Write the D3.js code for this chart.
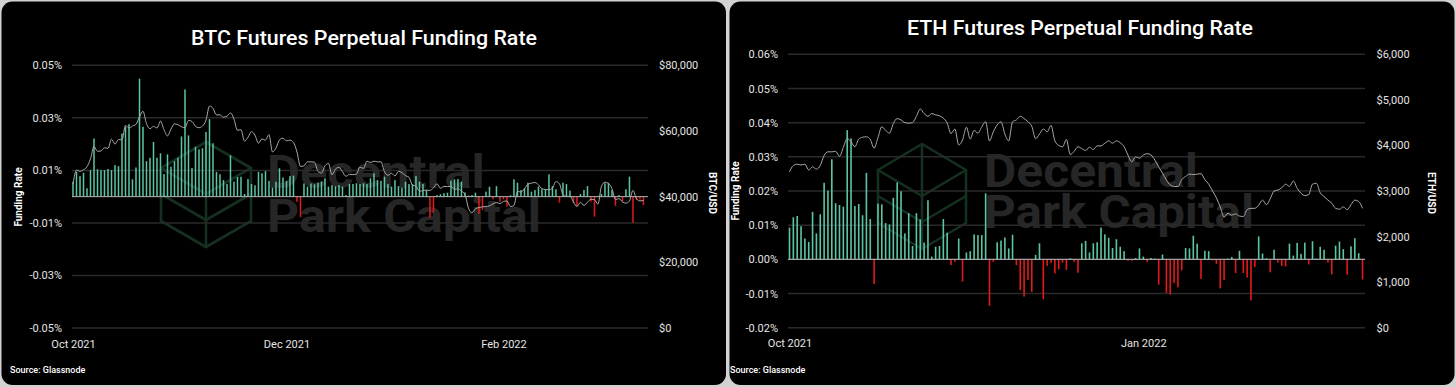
<!DOCTYPE html>
<html><head><meta charset="utf-8">
<script src="https://cdn.jsdelivr.net/npm/d3@7"></script>
<style>
html,body{margin:0;padding:0;background:#d2d2d2;}
svg{display:block;}
text{font-family:Roboto,"Noto Sans",sans-serif;}
</style></head><body>
<svg id="c" width="1456" height="387"></svg>
<script>
// ---------------- DATA ----------------
// BTC daily funding rate (%), 2021-10-01 .. 2022-03-13
const btcRate = [
0.0057,0.0095,0.0078,0.0091,0.0032,0.0101,0.0221,0.0104,0.0101,0.0101,
0.0105,0.0101,0.0120,0.0116,0.0240,0.0266,0.0276,0.0066,0.0111,0.0449,
0.0266,0.0135,0.0148,0.0208,0.0148,0.0165,0.0086,0.0161,0.0114,0.0135,
0.0148,0.0229,0.0408,0.0233,0.0109,0.0190,0.0180,0.0184,0.0246,0.0295,
0.0203,0.0094,0.0085,0.0063,0.0048,0.0157,0.0057,0.0075,0.0076,0.0010,
0.0067,0.0048,0.0043,0.0094,
0.0089,0.0097,0.0060,0.0034,0.0057,0.0108,0.0073,0.0060,0.0078,0.0080,
-0.0020,-0.0078,0.0050,0.0038,0.0050,0.0047,0.0053,0.0057,0.0070,0.0038,
0.0044,0.0040,0.0044,0.0038,0.0006,0.0048,0.0048,0.0051,0.0048,0.0051,
0.0048,0.0070,0.0089,0.0063,0.0060,0.0076,0.0048,0.0038,0.0063,0.0040,
0.0034,0.0057,0.0048,0.0048,0.0078,0.0057,0.0048,0.0025,-0.0080,-0.0060,
0.0006,
0.0009,0.0013,0.0015,0.0061,0.0066,0.0067,0.0057,0.0016,0.0004,0.0006,
0.0015,-0.0066,-0.0050,0.0019,0.0038,-0.0010,0.0040,-0.0019,-0.0010,-0.0038,
0.0005,0.0066,0.0053,0.0025,0.0032,0.0053,0.0019,0.0025,0.0038,0.0028,
0.0028,0.0085,0.0040,0.0028,-0.0023,0.0053,0.0048,0.0023,-0.0025,-0.0035,
0.0010,0.0025,0.0040,-0.0019,-0.0076,0.0003,0.0010,0.0051,0.0053,0.0025,
-0.0035,0.0006,-0.0019,0.0028,0.0076,-0.0099,-0.0013,-0.0010,-0.0032
];
// BTC/USD daily price, same dates
const btcPrice = [
43800,48100,47700,48200,49100,51500,55300,53800,53900,54900,54700,57500,56000,57400,57300,61700,60900,61500,62000,64300,66000,62200,60700,61400,60900,63000,60400,58500,60600,62200,61900,
61300,61000,63200,62900,61400,61000,61500,63300,67600,66900,64900,64900,64200,64500,65500,63600,60200,60400,56900,58100,59800,58700,56300,57600,57200,58900,53600,54800,57300,57800,
57000,57200,56500,53600,49200,49400,50600,50600,50500,47700,47200,49400,50100,46700,48400,48900,47600,46200,46800,46700,46900,49000,48600,50800,50400,50800,50600,50600,47600,46500,47100,
46300,47700,47300,46400,45900,43500,43200,41600,41900,42000,41900,42700,43900,42600,43100,43100,43100,42200,42400,41700,40700,36500,35100,36300,36700,36900,37000,37200,37800,38200,37900,
38500,38700,37000,37300,41600,41400,42400,43800,44100,44300,43600,42400,42200,42100,42600,44600,43900,40600,40100,40100,38400,37000,38300,37300,38300,39200,39100,37700,
43200,44400,44000,42500,39100,39400,38400,38000,38700,41900,39400,38700,38800
];
// ETH daily funding rate (%), 2021-10-01 .. 2022-02-27
const ethRate = [
0.0093,0.0123,0.0127,0.0097,0.0061,0.0051,0.0139,0.0076,0.0132,0.0224,
0.0201,0.0293,0.0164,0.0159,0.0154,0.0378,0.0354,0.0156,0.0162,0.0129,
0.0253,0.0118,-0.0072,0.0163,0.0161,0.0106,0.0102,0.0180,0.0225,0.0199,
0.0076,0.0135,0.0039,0.0135,0.0117,0.0049,0.0173,0.0008,0.0037,0.0039,
0.0118,0.0078,-0.0017,-0.0007,0.0061,-0.0065,0.0020,0.0024,0.0073,0.0071,
0.0071,0.0193,-0.0136,-0.0007,0.0050,0.0055,0.0064,0.0032,0.0072,-0.0017,
-0.0090,-0.0109,-0.0060,-0.0095,0.0013,0.0047,-0.0117,-0.0019,-0.0010,-0.0041,
-0.0029,-0.0010,-0.0031,0.0003,-0.0007,-0.0039,0.0047,0.0054,0.0020,0.0047,
0.0050,0.0093,0.0073,0.0063,0.0033,0.0059,0.0037,0.0024,-0.0004,-0.0004,
0.0004,0.0032,0.0008,-0.0008,0.0004,0.0002,-0.0074,0.0014,-0.0098,-0.0103,
-0.0069,-0.0082,-0.0032,0.0033,0.0032,0.0069,0.0046,-0.0057,0.0025,0.0024,
-0.0003,-0.0013,-0.0085,-0.0061,0.0002,0.0007,-0.0040,0.0025,-0.0040,-0.0053,
-0.0120,-0.0022,0.0067,0.0017,0.0003,-0.0038,0.0028,-0.0009,-0.0019,-0.0021,
0.0046,0.0011,0.0048,0.0016,0.0049,-0.0015,0.0053,0.0002,0.0037,0.0028,
-0.0009,-0.0044,0.0040,0.0052,0.0030,-0.0045,0.0038,0.0062,0.0018,-0.0059
];
// ETH/USD daily price, same dates
const ethPrice = [
3421,3560,3590,3570,3590,3460,3530,3480,3560,3780,
3860,3860,3870,3760,3960,4150,4080,3970,4140,4180,
4190,4130,3940,4170,4410,4330,4270,4480,4590,4560,
4500,4490,4500,4640,4800,4700,4640,4700,4670,4650,
4600,4490,4260,4360,4010,4120,4400,4140,4330,4270,
4410,4520,4100,4300,4450,4520,4250,4100,4520,4560,
4640,4590,4520,4420,4150,4250,4360,4300,4440,4100,
4000,3970,4130,3800,3870,3970,3930,3890,3960,3910,
3990,3990,4050,4100,4050,4100,4060,3970,3790,3640,
3750,3720,3790,3820,3790,3680,3530,3390,3240,3130,
3100,3100,3250,3320,3370,3360,3370,3380,3250,3150,
3000,2850,2650,2430,2510,2470,2500,2450,2440,2590,
2620,2620,2690,2800,2700,2830,3000,3020,3070,3150,
3100,3220,3060,2950,2900,2920,3150,3170,2960,2880,
2800,2730,2620,2600,2650,2590,2700,2800,2770,2620
];
const btcRateTicks = [-0.05,-0.03,-0.01,0.01,0.03,0.05];
const btcPriceTicks = [0,20000,40000,60000,80000];
const ethRateTicks = [-0.02,-0.01,0,0.01,0.02,0.03,0.04,0.05,0.06];
const ethPriceTicks = [0,1000,2000,3000,4000,5000,6000];
const btcDateTicks = ["2021-10-01","2021-12-01","2022-02-01"];
const ethDateTicks = ["2021-10-01","2022-01-01"];
const titles = ["BTC Futures Perpetual Funding Rate","ETH Futures Perpetual Funding Rate"];
const priceLabels = ["BTC/USD","ETH/USD"];
const rateLabel = "Funding Rate";
const sourceText = "Source: Glassnode";
const watermark = ["Decentral","Park Capital"];
const startDate = Date.UTC(2021,9,1);

// ---------------- DRAW ----------------
const svg = d3.select("#c");
const DAY = 864e5;
const fmtRate = v => (v<0?"-":"") + Math.abs(v).toFixed(2) + "%";
const fmtUsd = v => "$" + d3.format(",")(v);

function drawPanel(c){
  const g = svg.append("g");
  g.append("rect").attr("x",c.px).attr("y",1.5).attr("width",c.pw).attr("height",383.5)
    .attr("rx",11).attr("fill","#000");

  // watermark
  const wm = g.append("g");
  const L = c.logo;
  const pts = {
    t:[L.cx,L.top], ul:[L.cx-L.w,L.top+26], ur:[L.cx+L.w,L.top+26],
    ll:[L.cx-L.w,L.top+79], lr:[L.cx+L.w,L.top+79], b:[L.cx,L.top+105],
    c1:[L.cx,L.top+52], ml:[L.cx-L.w,L.top+52], mr:[L.cx+L.w,L.top+52], c2:[L.cx,L.top+78]
  };
  const segs = [["t","ul"],["t","ur"],["ul","ll"],["ur","lr"],["ll","b"],["lr","b"],
    ["ul","c1"],["ur","c1"],["ml","c2"],["mr","c2"],["t","b"]];
  wm.selectAll("line").data(segs).join("line")
    .attr("x1",d=>pts[d[0]][0]).attr("y1",d=>pts[d[0]][1])
    .attr("x2",d=>pts[d[1]][0]).attr("y2",d=>pts[d[1]][1])
    .attr("stroke","#15301f").attr("stroke-width",2.6).attr("stroke-linecap","round");
  wm.selectAll("text").data(watermark).join("text")
    .attr("x",c.wmX).attr("y",(d,i)=>c.wmY[i])
    .attr("textLength",(d,i)=>c.wmW[i]).attr("lengthAdjust","spacingAndGlyphs")
    .attr("font-size",46).attr("font-weight",700).attr("fill","#262626").text(d=>d);

  const x = d3.scaleUtc().domain([new Date(startDate), new Date(startDate + c.days*DAY)]).range(c.xr);
  const yR = d3.scaleLinear().domain(c.rateDomain).range(c.yr);
  const yP = d3.scaleLinear().domain(c.priceDomain).range(c.yr);

  // gridlines
  g.append("g").selectAll("line").data(c.rateTicks).join("line")
    .attr("x1",c.gx[0]).attr("x2",c.gx[1])
    .attr("y1",d=>yR(d)).attr("y2",d=>yR(d))
    .attr("stroke","#2a2a2a").attr("stroke-width",1.5);

  // axes labels
  const styleAxis = (sel) => {
    sel.select(".domain").remove();
    sel.selectAll("text").attr("font-family","Roboto").attr("font-size",11).attr("fill","#e4e4e4");
    sel.attr("font-family",null);
  };
  g.append("g").attr("transform",`translate(${c.gx[0]},0)`)
    .call(d3.axisLeft(yR).tickValues(c.rateTicks).tickFormat(fmtRate).tickSize(0).tickPadding(c.gx[0]-c.leftEnd))
    .call(styleAxis);
  g.append("g").attr("transform",`translate(${c.gx[1]},0)`)
    .call(d3.axisRight(yP).tickValues(c.priceTicks).tickFormat(fmtUsd).tickSize(0).tickPadding(c.rightStart-c.gx[1]))
    .call(styleAxis);
  g.append("g").attr("transform",`translate(0,${c.yr[0]})`)
    .call(d3.axisBottom(x).tickValues(c.dateTicks.map(s=>new Date(s+"T00:00:00Z")))
      .tickFormat(d3.utcFormat("%b %Y")).tickSize(0).tickPadding(12))
    .call(styleAxis);

  // bars
  const bw = c.barW;
  g.append("g").selectAll("rect").data(c.rate).join("rect")
    .attr("x",(d,i)=>x(new Date(startDate+i*DAY))-bw/2)
    .attr("width",bw)
    .attr("y",d=>yR(Math.max(d,0)))
    .attr("height",d=>Math.abs(yR(d)-yR(0)))
    .attr("fill",d=>d>=0?"#5cc5a5":"#e41a1a");

  // zero line
  g.append("line").attr("x1",c.gx[0]).attr("x2",c.gx[1]).attr("y1",yR(0)).attr("y2",yR(0))
    .attr("stroke","#b5b5b5").attr("stroke-width",1);

  // price line
  const line = d3.line().x((d,i)=>x(new Date(startDate+i*DAY))).y(d=>yP(d)).curve(d3.curveMonotoneX);
  g.append("path").datum(c.price).attr("d",line).attr("fill","none")
    .attr("stroke","#a9a9a9").attr("stroke-width",1);

  // titles
  g.append("text").attr("x",c.titleX).attr("y",c.titleY).attr("text-anchor","middle")
    .attr("font-size",20).attr("font-weight",500).attr("fill","#fff")
    .attr("textLength",346).attr("lengthAdjust","spacingAndGlyphs").text(c.title);
  g.append("text").attr("transform",`translate(${c.rateLabelPos[0]},${c.rateLabelPos[1]}) rotate(-90)`)
    .attr("text-anchor","middle").attr("dy","0.35em").attr("font-size",10).attr("font-weight",700)
    .attr("fill","#fff").text(rateLabel);
  g.append("text").attr("transform",`translate(${c.priceLabelPos[0]},${c.priceLabelPos[1]}) rotate(90)`)
    .attr("text-anchor","middle").attr("dy","0.35em").attr("font-size",10).attr("font-weight",700)
    .attr("fill","#fff").text(c.priceLabel);
  g.append("text").attr("x",c.srcX).attr("y",373).attr("font-size",9).attr("font-weight",500)
    .attr("fill","#fff").text(sourceText);
}

drawPanel({
  px:1.5, pw:724.5, rate:btcRate, price:btcPrice, days:164.3, xr:[73,648], gx:[72,648],
  rateDomain:[-0.05,0.05], priceDomain:[0,80000], yr:[328,65.3],
  rateTicks:btcRateTicks, priceTicks:btcPriceTicks, dateTicks:btcDateTicks,
  leftEnd:62, rightStart:659, barW:1.5,
  title:titles[0], titleX:364, titleY:44.5, priceLabel:priceLabels[0],
  rateLabelPos:[18,197], priceLabelPos:[712,193], srcX:10,
  logo:{cx:206, top:142, w:45}, wmX:267, wmY:[188,232], wmW:[218,274]
});
drawPanel({
  px:729.5, pw:725, rate:ethRate, price:ethPrice, days:149.8, xr:[789.5,1365.6], gx:[788,1365],
  rateDomain:[-0.02,0.06], priceDomain:[0,6000], yr:[327.7,54.3],
  rateTicks:ethRateTicks, priceTicks:ethPriceTicks, dateTicks:ethDateTicks,
  leftEnd:778, rightStart:1376.5, barW:1.6,
  title:titles[1], titleX:1080, titleY:34.5, priceLabel:priceLabels[1],
  rateLabelPos:[735,191], priceLabelPos:[1431,193], srcX:730,
  logo:{cx:922, top:144, w:44}, wmX:984, wmY:[187,228], wmW:[214,270]
});
</script>
</body></html>
